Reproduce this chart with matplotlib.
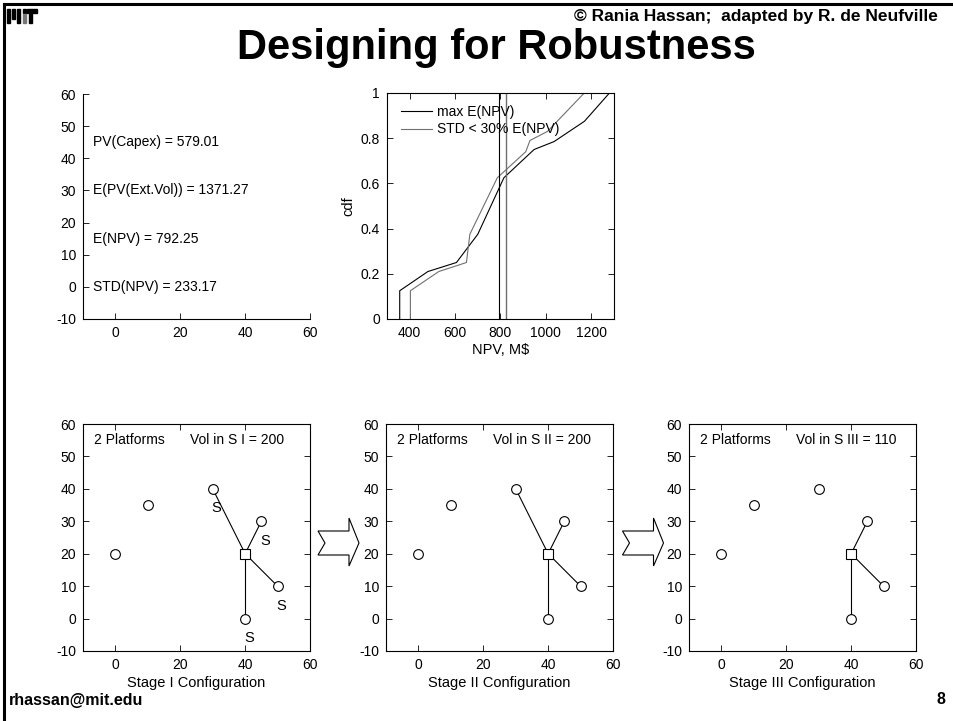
import numpy as np
import matplotlib
matplotlib.use('Agg')
import matplotlib.pyplot as plt
from matplotlib.patches import Polygon, Rectangle
from matplotlib.lines import Line2D

plt.rcParams['font.family'] = ['Liberation Sans', 'DejaVu Sans']
plt.rcParams['axes.unicode_minus'] = False

# ---- data ----
info_labels = ['PV(Capex) = 579.01', 'E(PV(Ext.Vol)) = 1371.27',
               'E(NPV) = 792.25', 'STD(NPV) = 233.17']
info_y = [45, 30, 15, 0]

npv_max = [356, 356, 480, 606, 700, 815, 948, 1036, 1170, 1280]
cdf_max = [0, 0.125, 0.21, 0.25, 0.375, 0.625, 0.75, 0.785, 0.875, 1.0]
npv_std = [403, 403, 528, 650, 665, 786, 911, 930, 1007, 1169]
cdf_std = [0, 0.125, 0.21, 0.25, 0.375, 0.625, 0.74, 0.79, 0.83, 1.0]
enpv_max = 792.25
enpv_std = 825

site_x = [0, 10, 30, 45, 50, 40]
site_y = [20, 35, 40, 30, 10, 0]
hub_x, hub_y = 40, 20
stage_names = ['I', 'II', 'III']
stage_vol = [200, 200, 110]
stage_links = [[2, 3, 4, 5], [2, 3, 4, 5], [3, 4, 5]]
s_sites = [2, 3, 4, 5]   # sites marked "S" in stage I

W, H = 954, 721
fig = plt.figure(figsize=(W / 100, H / 100), dpi=100)


def fx(x):
    return x / W


def fy(y):
    return 1 - y / H


def px_axes(x0, y0, x1, y1):
    return fig.add_axes([fx(x0), fy(y1), fx(x1 - x0), (y1 - y0) / H])


def style(ax, box=True):
    ax.tick_params(direction='in', length=4, width=0.6, labelsize=10,
                   top=box, right=box, pad=5)
    for s in ax.spines.values():
        s.set_linewidth(0.8)
    if not box:
        ax.spines['top'].set_visible(False)
        ax.spines['right'].set_visible(False)


# ---- top-left summary ----
ax0 = px_axes(83, 94, 310, 319)
ax0.set_xlim(-10, 60)
ax0.set_ylim(-10, 60)
ax0.set_xticks([0, 20, 40, 60])
ax0.set_yticks(range(-10, 61, 10))
for lab, yy in zip(info_labels, info_y):
    ax0.text(-7, yy, lab, fontsize=10, va='center', ha='left')
style(ax0, box=False)

# ---- cdf plot ----
ax1 = px_axes(387, 93, 614, 319)
ax1.plot(npv_max, cdf_max, color='black', lw=0.8, label='max E(NPV)')
ax1.plot(npv_std, cdf_std, color='#707070', lw=0.8, label='STD < 30% E(NPV)')
ax1.axvline(enpv_max, color='black', lw=0.8)
ax1.axvline(enpv_std, color='#707070', lw=1.0)
ax1.set_xlim(300, 1300)
ax1.set_ylim(0, 1)
ax1.set_xticks([400, 600, 800, 1000, 1200])
ax1.set_yticks([0, 0.2, 0.4, 0.6, 0.8, 1])
ax1.set_yticklabels(['0', '0.2', '0.4', '0.6', '0.8', '1'])
ax1.set_xlabel('NPV, M$', fontsize=10.5, labelpad=2)
ax1.set_ylabel('cdf', fontsize=10.5)
ax1.legend(loc='upper left', frameon=False, fontsize=10, handlelength=2.2,
           handletextpad=0.4, labelspacing=0.25, borderaxespad=0.3,
           bbox_to_anchor=(0.02, 0.99))
style(ax1)

# ---- stage configurations ----
stage_left = [83, 386, 689]
for k in range(3):
    ax = px_axes(stage_left[k], 424, stage_left[k] + 227, 651)
    for j in stage_links[k]:
        ax.plot([hub_x, site_x[j]], [hub_y, site_y[j]], color='black', lw=0.8)
    ax.plot(site_x, site_y, 'o', mfc='white', mec='black', ms=7, mew=0.8)
    ax.plot([hub_x], [hub_y], 's', mfc='white', mec='black', ms=7, mew=0.8)
    if k == 0:
        for j in s_sites:
            ax.text(site_x[j] + 1.2, site_y[j] - 6, 'S', fontsize=10.5,
                    ha='center', va='center')
    ax.text(-6.5, 55, '2 Platforms', fontsize=10, va='center')
    ax.text(23, 55, 'Vol in S %s = %d' % (stage_names[k], stage_vol[k]),
            fontsize=10, va='center')
    ax.set_xlim(-10, 60)
    ax.set_ylim(-10, 60)
    ax.set_xticks([0, 20, 40, 60])
    ax.set_yticks(range(-10, 61, 10))
    ax.set_xlabel('Stage %s Configuration' % stage_names[k], fontsize=10.5,
                  labelpad=3)
    style(ax)

# ---- block arrows between stages ----
arrow_shape = [(0, -12), (7, 0), (0, 12), (31, 12), (31, 23),
               (41, 0), (31, -25), (31, -12)]
for x0 in [318, 622.5]:
    pts = [(fx(x0 + a), fy(543 + b)) for a, b in arrow_shape]
    fig.add_artist(Polygon(pts, closed=True, fc='white', ec='black', lw=0.8,
                           transform=fig.transFigure))

# ---- slide decoration ----
fig.add_artist(Line2D([fx(4), 1], [fy(4), fy(4)], color='black', lw=2.2))
fig.add_artist(Line2D([fx(4), fx(4)], [fy(4), 0], color='black', lw=2.2))

logo = [(7.5, 9, 2.5, 14, 'black'), (12, 9, 2.5, 9.5, 'black'),
        (17, 9, 3, 14, 'black'), (23, 9, 3.5, 3.5, 'black'),
        (23, 14, 3.5, 9, '#777777'), (27.5, 9, 10, 3.5, 'black'),
        (29, 14, 3.5, 9, 'black')]
for x0, y0, w, h, c in logo:
    fig.add_artist(Rectangle((fx(x0), fy(y0 + h)), w / W, h / H, color=c,
                             transform=fig.transFigure))

fig.text(fx(938), fy(16), '\u00a9 Rania Hassan;  adapted by R. de Neufville',
         fontsize=12.5, fontweight='bold', ha='right', va='center')
fig.text(fx(496), fy(48), 'Designing for Robustness', fontsize=30,
         fontweight='bold', ha='center', va='center')
fig.text(fx(9), fy(700), 'rhassan@mit.edu', fontsize=11.5, fontweight='bold',
         ha='left', va='center')
fig.text(fx(945), fy(700), '8', fontsize=11.5, fontweight='bold',
         ha='right', va='center')

fig.savefig('out.png', dpi=100)
